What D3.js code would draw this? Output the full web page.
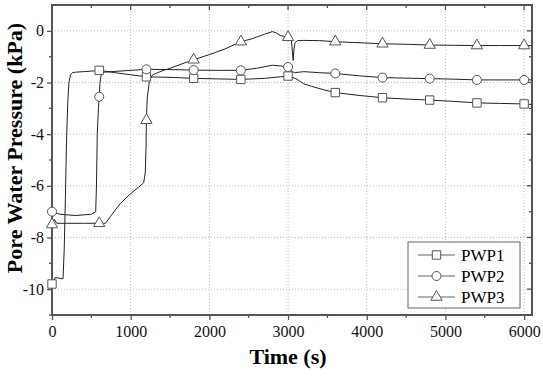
<!DOCTYPE html>
<html>
<head>
<meta charset="utf-8">
<script src="https://cdn.jsdelivr.net/npm/d3@7"></script>
<style>
  body { margin: 0; background: #fff; }
  text { font-family: 'Liberation Serif', 'Times New Roman', serif; }
</style>
</head>
<body>
<script>
const width = 543
const height = 378
const margin = { top: 5, right: 11, bottom: 63, left: 52 }

// Datos
const t1 = [0, 20, 40, 140, 155, 170, 185, 200, 215, 235, 260, 300, 400, 500, 600, 800, 1000, 1200, 1500, 1800, 2100, 2400, 2700, 2900, 3000, 3100, 3200, 3300, 3450, 3600, 3900, 4200, 4500, 4800, 5100, 5400, 5700, 6000, 6100]
const pwp1 = [-9.8, -9.7, -9.55, -9.6, -8.5, -6.5, -4.2, -2.8, -2.0, -1.7, -1.62, -1.6, -1.58, -1.56, -1.53, -1.62, -1.7, -1.78, -1.8, -1.84, -1.86, -1.88, -1.84, -1.78, -1.75, -1.85, -2.05, -2.15, -2.28, -2.39, -2.5, -2.59, -2.64, -2.68, -2.73, -2.79, -2.81, -2.83, -2.85]

const t2 = [0, 30, 100, 300, 500, 555, 565, 575, 590, 600, 610, 625, 660, 800, 1000, 1200, 1500, 1800, 2100, 2400, 2600, 2800, 2900, 3000, 3040, 3080, 3200, 3400, 3600, 3900, 4200, 4500, 4800, 5100, 5400, 5700, 6000, 6100]
const pwp2 = [-7.0, -7.05, -7.1, -7.15, -7.1, -7.0, -6.0, -4.0, -3.0, -2.55, -2.0, -1.7, -1.6, -1.57, -1.53, -1.49, -1.5, -1.52, -1.53, -1.53, -1.45, -1.33, -1.36, -1.4, -1.55, -1.62, -1.58, -1.62, -1.65, -1.74, -1.81, -1.83, -1.85, -1.87, -1.9, -1.9, -1.9, -1.9]

const t3 = [0, 30, 60, 200, 400, 600, 680, 740, 800, 870, 1000, 1100, 1165, 1185, 1195, 1200, 1210, 1240, 1280, 1400, 1500, 1650, 1800, 2000, 2200, 2400, 2550, 2700, 2800, 2850, 2900, 3000, 3040, 3055, 3065, 3075, 3090, 3120, 3200, 3400, 3600, 3900, 4200, 4500, 4800, 5100, 5400, 5700, 6000, 6100]
const pwp3 = [-7.5, -7.3, -7.45, -7.45, -7.45, -7.45, -7.45, -7.2, -6.95, -6.68, -6.3, -6.05, -5.88, -5.5, -4.5, -3.46, -2.6, -1.9, -1.7, -1.55, -1.45, -1.28, -1.12, -0.92, -0.7, -0.42, -0.3, -0.13, -0.03, -0.08, -0.18, -0.25, -0.3, -0.8, -1.15, -0.7, -0.45, -0.38, -0.37, -0.38, -0.42, -0.46, -0.5, -0.52, -0.55, -0.56, -0.57, -0.57, -0.57, -0.57]

const names = ['PWP1', 'PWP2', 'PWP3']
const symbols = [d3.symbolSquare, d3.symbolCircle, d3.symbolTriangle]
const symSize = [64, 58, 50]
const markerTimes = d3.range(0, 6001, 600)
const xTicks = [0, 1000, 2000, 3000, 4000, 5000, 6000]
const yTicks = [0, -2, -4, -6, -8, -10]

const series = [
  { name: names[0], t: t1, v: pwp1 },
  { name: names[1], t: t2, v: pwp2 },
  { name: names[2], t: t3, v: pwp3 },
]

const x = d3.scaleLinear().domain([0, 6100]).range([margin.left, width - margin.right])
const y = d3.scaleLinear().domain([-11, 1]).range([height - margin.bottom, margin.top])

const svg = d3.select('body').append('svg').attr('width', width).attr('height', height)

// grilla punteada
svg.append('g')
  .selectAll('line.gx')
  .data(xTicks.slice(1))
  .join('line')
  .attr('x1', d => x(d)).attr('x2', d => x(d))
  .attr('y1', y(1)).attr('y2', y(-11))
  .attr('stroke', '#bbb').attr('stroke-dasharray', '1,2')
svg.append('g')
  .selectAll('line.gy')
  .data(yTicks)
  .join('line')
  .attr('x1', x(0)).attr('x2', x(6100))
  .attr('y1', d => y(d)).attr('y2', d => y(d))
  .attr('stroke', '#bbb').attr('stroke-dasharray', '1,2')

// ejes
const xAxis = d3.axisBottom(x).tickValues(xTicks).tickSize(5).tickPadding(6).tickFormat(d3.format('d'))
const yAxis = d3.axisLeft(y).tickValues(yTicks).tickSize(5).tickPadding(3)

const gx = svg.append('g').attr('transform', `translate(0,${y(-11)})`).call(xAxis)
const gy = svg.append('g').attr('transform', `translate(${x(0)},0)`).call(yAxis)
for (const g of [gx, gy]) {
  g.select('.domain').remove()
  g.selectAll('line').attr('stroke', '#555').attr('stroke-width', 1.3)
  g.selectAll('text').attr('font-size', 16).attr('fill', '#111')
    .style('font-family', "'Liberation Serif', serif")
}
gy.selectAll('text').text(d => d === 0 ? '0' : '-' + Math.abs(d))

// ticks menores y espejados
const minorX = d3.range(500, 6001, 1000)
const minorY = d3.range(-11, 1, 2)
svg.append('g').selectAll('line')
  .data(minorX)
  .join('line')
  .attr('x1', d => x(d)).attr('x2', d => x(d))
  .attr('y1', y(-11)).attr('y2', y(-11) + 3)
  .attr('stroke', '#555').attr('stroke-width', 1.3)
svg.append('g').selectAll('line')
  .data(minorY)
  .join('line')
  .attr('x1', x(0) - 3).attr('x2', x(0))
  .attr('y1', d => y(d)).attr('y2', d => y(d))
  .attr('stroke', '#555').attr('stroke-width', 1.3)
svg.append('g').selectAll('line')
  .data(xTicks.concat(minorX))
  .join('line')
  .attr('x1', d => x(d)).attr('x2', d => x(d))
  .attr('y1', y(1)).attr('y2', d => y(1) + (d % 1000 === 0 ? 5 : 3))
  .attr('stroke', '#555').attr('stroke-width', 1.3)
svg.append('g').selectAll('line')
  .data(yTicks.concat(minorY))
  .join('line')
  .attr('x1', d => x(6100) - (d % 2 === 0 ? 5 : 3)).attr('x2', x(6100))
  .attr('y1', d => y(d)).attr('y2', d => y(d))
  .attr('stroke', '#555').attr('stroke-width', 1.3)

// marco
svg.append('rect')
  .attr('x', x(0)).attr('y', y(1))
  .attr('width', x(6100) - x(0)).attr('height', y(-11) - y(1))
  .attr('fill', 'none').attr('stroke', '#555').attr('stroke-width', 2)

// curvas
const line = d3.line().x(d => x(d[0])).y(d => y(d[1]))
const plot = svg.append('g')
series.forEach(s => {
  plot.append('path')
    .datum(d3.zip(s.t, s.v))
    .attr('d', line)
    .attr('fill', 'none').attr('stroke', '#222').attr('stroke-width', 1)
})

// marcadores interpolados sobre la curva
series.forEach((s, i) => {
  const interp = tt => {
    const j = d3.bisectRight(s.t, tt)
    if (j <= 0) return s.v[0]
    if (j >= s.t.length) return s.v[s.t.length - 1]
    const a = s.t[j - 1], b = s.t[j]
    return s.v[j - 1] + (s.v[j] - s.v[j - 1]) * (tt - a) / (b - a)
  }
  plot.selectAll(null)
    .data(markerTimes)
    .join('path')
    .attr('transform', d => `translate(${x(d)},${y(interp(d))})`)
    .attr('d', d3.symbol().type(symbols[i]).size(symSize[i] * 1.1))
    .attr('fill', '#fff').attr('stroke', '#555').attr('stroke-width', 1)
})

// leyenda
const lg = svg.append('g').attr('transform', 'translate(408,242)')
lg.append('rect').attr('width', 112).attr('height', 66)
  .attr('fill', '#fff').attr('stroke', '#666').attr('stroke-width', 1)
names.forEach((n, i) => {
  const row = lg.append('g').attr('transform', `translate(0,${13 + i * 21})`)
  row.append('line').attr('x1', 10).attr('x2', 47).attr('stroke', '#666').attr('stroke-width', 1)
  row.append('path').attr('transform', 'translate(28.5,0)')
    .attr('d', d3.symbol().type(symbols[i]).size(symSize[i] * 1.1))
    .attr('fill', '#fff').attr('stroke', '#555')
  row.append('text').attr('x', 53).attr('y', 6).attr('font-size', 17).text(n)
})

// titulos de ejes
svg.append('text')
  .attr('x', 288).attr('y', 364)
  .attr('text-anchor', 'middle').attr('font-size', 22).attr('font-weight', 'bold')
  .text('Time (s)')
svg.append('text')
  .attr('transform', 'translate(22,148) rotate(-90)')
  .attr('text-anchor', 'middle').attr('font-size', 22).attr('font-weight', 'bold')
  .text('Pore Water Pressure (kPa)')
</script>
</body>
</html>
